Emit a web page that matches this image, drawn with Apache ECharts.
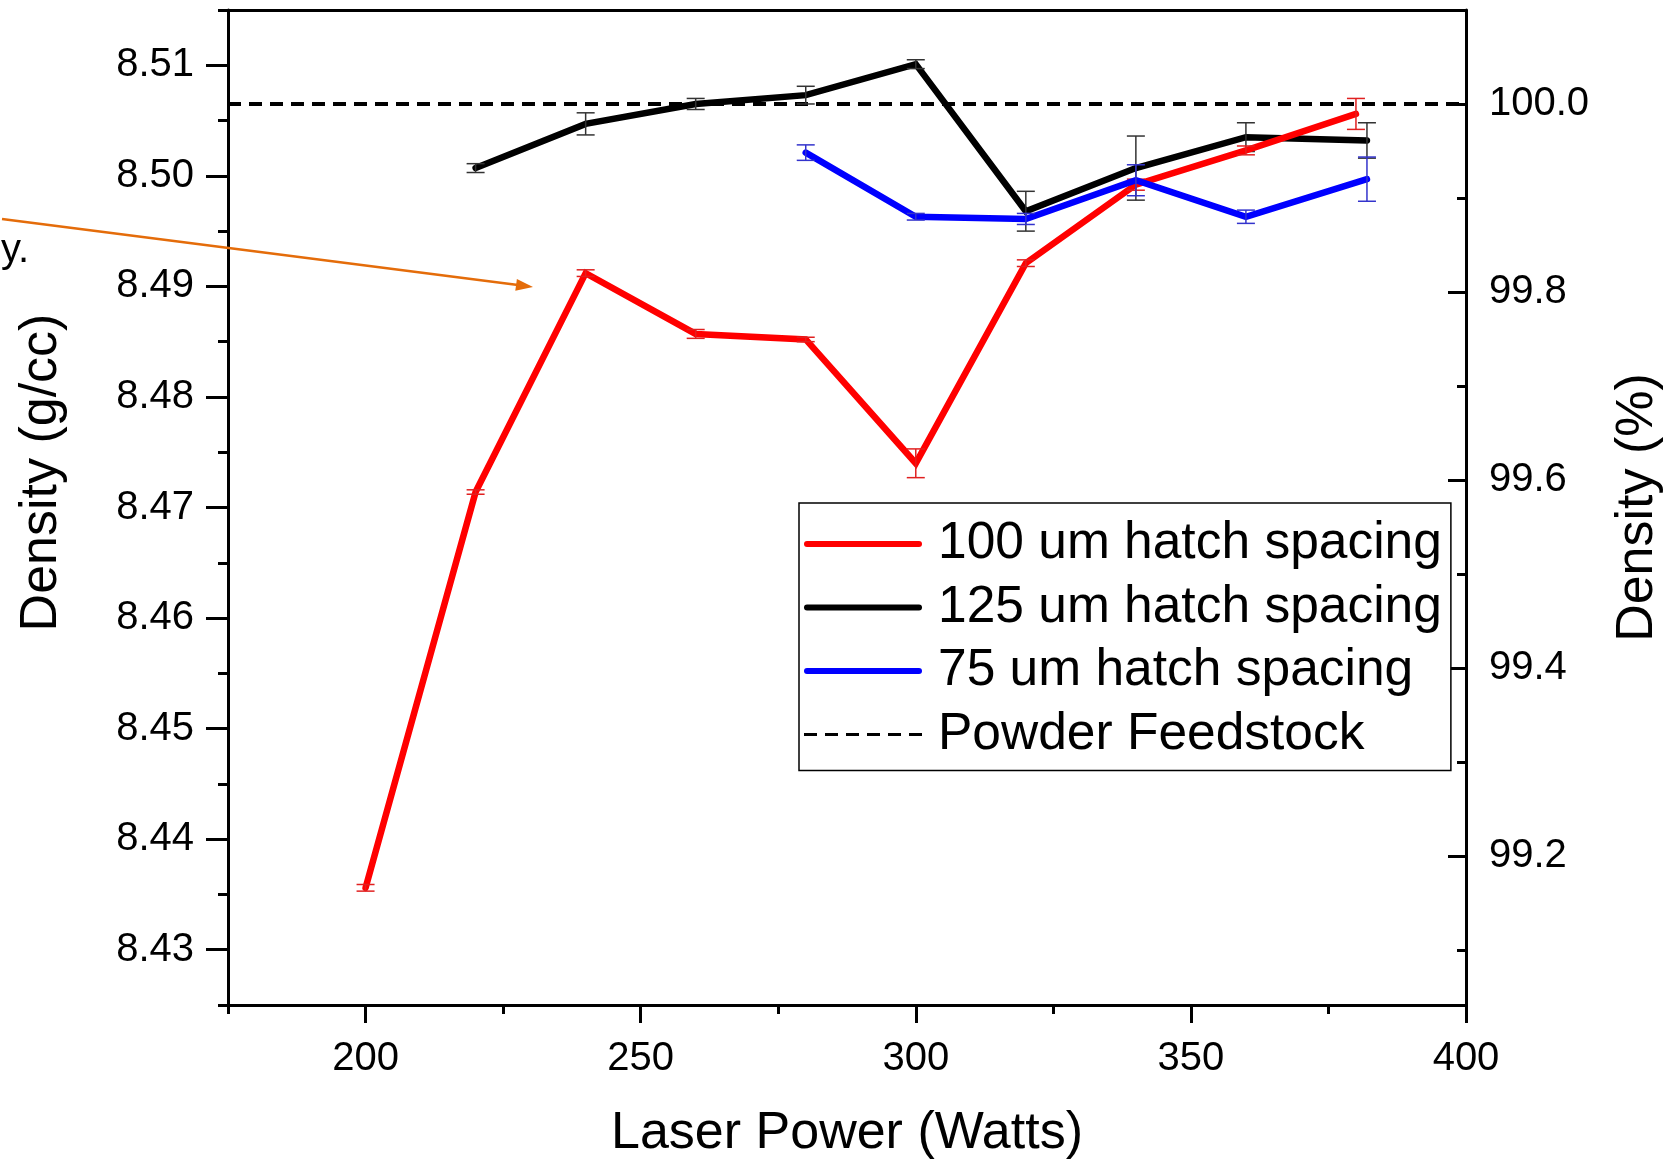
<!DOCTYPE html>
<html>
<head>
<meta charset="utf-8">
<script src="https://cdn.jsdelivr.net/npm/echarts@6/dist/echarts.min.js"></script>
<style>
html,body{margin:0;padding:0;background:#fff;}
#chart{width:1678px;height:1160px;}
</style>
</head>
<body>
<div id="chart"></div>
<script>
// ---------------- data ----------------
const seriesNames = ['100 um hatch spacing', '125 um hatch spacing', '75 um hatch spacing', 'Powder Feedstock'];

const power100   = [200, 220, 240, 260, 280, 300, 320, 340, 360, 380];
const density100 = [8.4356, 8.4714, 8.4912, 8.4857, 8.4852, 8.4740, 8.4921, 8.4992, 8.5023, 8.5056];
const error100   = [0.0003, 0.0002, 0.0003, 0.0004, 0.0002, 0.0013, 0.0003, 0.0005, 0.0004, 0.0014];

const power125   = [220, 240, 260, 280, 300, 320, 340, 360, 382];
const density125 = [8.5007, 8.5047, 8.5065, 8.5073, 8.5101, 8.4968, 8.5007, 8.5035, 8.5032];
const error125   = [0.0004, 0.0010, 0.0005, 0.0008, 0.0004, 0.0018, 0.0029, 0.0013, 0.0016];

const power75    = [280, 300, 320, 340, 360, 382];
const density75  = [8.5021, 8.4963, 8.4961, 8.4996, 8.4963, 8.4997];
const error75    = [0.0007, 0.0003, 0.0005, 0.0014, 0.0006, 0.0020];

const feedstockDensity = 8.5065;   // = 100 %

const xMin = 175, xMax = 400;
const yMin = 8.425, yMax = 8.515;
const xTickValues  = [200, 250, 300, 350, 400];
const xMinorValues = [175, 225, 275, 325, 375];
const yTickValues  = [8.43, 8.44, 8.45, 8.46, 8.47, 8.48, 8.49, 8.50, 8.51];
const yMinorValues = [8.425, 8.435, 8.445, 8.455, 8.465, 8.475, 8.485, 8.495, 8.505, 8.515];
const pctTickValues  = [99.2, 99.4, 99.6, 99.8, 100.0];
const pctMinorValues = [99.1, 99.3, 99.5, 99.7, 99.9];

// ---------------- helpers ----------------
const FONT = "'Liberation Sans', Arial, sans-serif";
const pctMin = yMin / feedstockDensity * 100;
const pctMax = yMax / feedstockDensity * 100;

function pairs(xs, ys) { return xs.map((x, i) => [x, ys[i]]); }
function errData(xs, ys, es) { return xs.map((x, i) => [x, ys[i] - es[i], ys[i] + es[i]]); }

function errorBars(name, color, data, z) {
  return {
    type: 'custom', name: name, xAxisIndex: 0, yAxisIndex: 0, z: z, silent: true,
    data: data,
    encode: { x: 0, y: [1, 2] },
    renderItem: function (params, api) {
      const x = api.value(0);
      const lo = api.coord([x, api.value(1)]);
      const hi = api.coord([x, api.value(2)]);
      const hw = 9;
      const style = { stroke: color, lineWidth: 1.5 };
      return {
        type: 'group',
        children: [
          { type: 'line', shape: { x1: lo[0], y1: lo[1], x2: hi[0], y2: hi[1] }, style: style },
          { type: 'line', shape: { x1: lo[0] - hw, y1: lo[1], x2: lo[0] + hw, y2: lo[1] }, style: style },
          { type: 'line', shape: { x1: hi[0] - hw, y1: hi[1], x2: hi[0] + hw, y2: hi[1] }, style: style }
        ]
      };
    }
  };
}

function lineSeries(name, color, data, z) {
  return {
    type: 'line', name: name, xAxisIndex: 0, yAxisIndex: 0, z: z,
    data: data, symbol: 'none', showSymbol: false, silent: true,
    lineStyle: { color: color, width: 6.5, join: 'miter', cap: 'round' },
    itemStyle: { color: color },
    emphasis: { disabled: true },
    animation: false
  };
}

// legend icons (drawn shapes, 118 x 6 box)
const solidIcon = 'path://M3,0H115A3,3 0 0 1 115,6H3A3,3 0 0 1 3,0Z';
let dashPath = 'path://';
for (let k = 0; k < 6; k++) { const s = k * 21; dashPath += 'M' + s + ',1.5H' + (s + 13) + 'V4.5H' + s + 'Z'; }
dashPath += 'M0,0H0.01V6H0Z';
const dashIcon = dashPath;

const axisLineStyle = { color: '#000', width: 3 };
const tickLabelStyle = { fontFamily: FONT, fontSize: 40, color: '#000', lineHeight: 40 };
const nameStyle = { fontFamily: FONT, fontSize: 52, color: '#000', lineHeight: 52 };

const chart = echarts.init(document.getElementById('chart'), null, { renderer: 'canvas' });

const option = {
  backgroundColor: '#fff',
  animation: false,
  grid: { left: 228, right: 212, top: 10, bottom: 155, containLabel: false, outerBoundsMode: 'none' },
  xAxis: [
    {
      type: 'value', position: 'bottom', min: xMin, max: xMax,
      name: 'Laser Power (Watts)', nameLocation: 'middle', nameGap: 103, nameTextStyle: nameStyle,
      axisLine: { show: true, onZero: false, lineStyle: axisLineStyle },
      axisTick: { show: true, length: 18, inside: false, lineStyle: { width: 3, color: '#000' }, customValues: xTickValues },
      axisLabel: { show: true, margin: 34, ...tickLabelStyle, customValues: xTickValues, formatter: v => String(Math.round(v)) },
      splitLine: { show: false }
    },
    {
      type: 'value', position: 'bottom', min: xMin, max: xMax,
      axisLine: { show: false, onZero: false },
      axisTick: { show: true, length: 9, inside: false, lineStyle: { width: 3, color: '#000' }, customValues: xMinorValues },
      axisLabel: { show: false },
      splitLine: { show: false }
    },
    {
      type: 'value', position: 'top', min: xMin, max: xMax,
      axisLine: { show: true, onZero: false, lineStyle: axisLineStyle },
      axisTick: { show: false }, axisLabel: { show: false }, splitLine: { show: false }
    }
  ],
  yAxis: [
    {
      type: 'value', position: 'left', min: yMin, max: yMax,
      name: 'Density (g/cc)', nameLocation: 'middle', nameGap: 160, nameRotate: 90,
      nameTextStyle: { ...nameStyle, padding: [0, 0, 0, 70] },
      axisLine: { show: true, onZero: false, lineStyle: axisLineStyle },
      axisTick: { show: true, length: 22, inside: false, lineStyle: { width: 3, color: '#000' }, customValues: yTickValues },
      axisLabel: { show: true, margin: 34, ...tickLabelStyle, customValues: yTickValues, formatter: v => v.toFixed(2) },
      splitLine: { show: false }
    },
    {
      type: 'value', position: 'left', min: yMin, max: yMax,
      axisLine: { show: false, onZero: false },
      axisTick: { show: true, length: 10, inside: false, lineStyle: { width: 3, color: '#000' }, customValues: yMinorValues },
      axisLabel: { show: false }, splitLine: { show: false }
    },
    {
      type: 'value', position: 'right', min: pctMin, max: pctMax,
      name: 'Density (%)', nameLocation: 'middle', nameGap: 146, nameRotate: 90, nameTextStyle: nameStyle,
      axisLine: { show: true, onZero: false, lineStyle: axisLineStyle },
      axisTick: { show: true, length: 18, inside: true, lineStyle: { width: 3, color: '#000' }, customValues: pctTickValues },
      axisLabel: { show: true, margin: 23, ...tickLabelStyle, customValues: pctTickValues, formatter: v => v.toFixed(1) },
      splitLine: { show: false }
    },
    {
      type: 'value', position: 'right', min: pctMin, max: pctMax,
      axisLine: { show: false, onZero: false },
      axisTick: { show: true, length: 9, inside: true, lineStyle: { width: 3, color: '#000' }, customValues: pctMinorValues },
      axisLabel: { show: false }, splitLine: { show: false }
    }
  ],
  legend: {
    orient: 'vertical', left: 799, top: 503,
    data: [
      { name: seriesNames[0], icon: solidIcon },
      { name: seriesNames[1], icon: solidIcon },
      { name: seriesNames[2], icon: solidIcon },
      { name: seriesNames[3], icon: dashIcon }
    ],
    itemWidth: 118, itemHeight: 6, itemGap: 11.5,
    itemStyle: { borderWidth: 0 },
    symbolKeepAspect: false,
    padding: [15, 9, 10, 5],
    borderColor: '#000', borderWidth: 1.5, backgroundColor: '#fff',
    selectedMode: false,
    textStyle: { fontFamily: FONT, fontSize: 51.5, color: '#000', lineHeight: 48, padding: [0, 0, 0, 11] }
  },
  series: [
    {
      type: 'line', name: seriesNames[3], xAxisIndex: 0, yAxisIndex: 0, z: 1,
      data: [[xMin, feedstockDensity], [xMax, feedstockDensity]],
      symbol: 'none', showSymbol: false, silent: true,
      lineStyle: { color: '#000', width: 4, type: [13, 8] },
      itemStyle: { color: '#000' }, emphasis: { disabled: true }
    },
    lineSeries(seriesNames[1], '#000000', pairs(power125, density125), 3),
    errorBars('err125', '#333333', errData(power125, density125, error125), 4),
    lineSeries(seriesNames[0], '#ff0000', pairs(power100, density100), 5),
    errorBars('err100', '#e02020', errData(power100, density100, error100), 6),
    lineSeries(seriesNames[2], '#0000ff', pairs(power75, density75), 7),
    errorBars('err75', '#3333cc', errData(power75, density75, error75), 8)
  ],
  graphic: [
    {
      type: 'line', z: 100, silent: true,
      shape: { x1: 2, y1: 219, x2: 518, y2: 285 },
      style: { stroke: '#e46c0a', lineWidth: 2.5 }
    },
    {
      type: 'polygon', z: 100, silent: true,
      shape: { points: [[533, 287], [515.3, 290.8], [516.9, 278.9]] },
      style: { fill: '#e46c0a' }
    },
    {
      type: 'text', z: 100, silent: true, left: 1, top: 231,
      style: { text: 'y.', fontFamily: FONT, fontSize: 40, fill: '#000' }
    }
  ]
};

chart.setOption(option);
</script>
</body>
</html>
